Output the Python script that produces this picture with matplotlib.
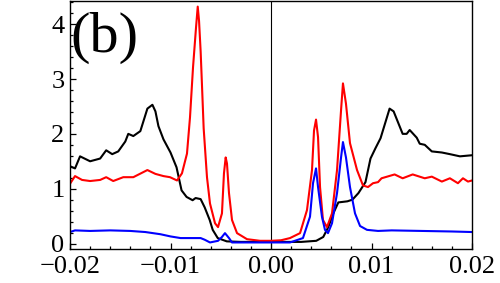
import numpy as np
import matplotlib
matplotlib.use("Agg")
import matplotlib.pyplot as plt
from matplotlib.ticker import MultipleLocator, FuncFormatter

## curves, as (x, y) pairs
black_pts = [(-0.0200, 1.41), (-0.0195, 1.37), (-0.0190, 1.59), (-0.0180, 1.50), (-0.0170, 1.55),
             (-0.0164, 1.70), (-0.0158, 1.63), (-0.0152, 1.68), (-0.0145, 1.86), (-0.0142, 2.00),
             (-0.0137, 1.96), (-0.0130, 2.05), (-0.0123, 2.46), (-0.0118, 2.53), (-0.0115, 2.41),
             (-0.0112, 2.14), (-0.0107, 1.90), (-0.0100, 1.66), (-0.0094, 1.39), (-0.0089, 0.97),
             (-0.0084, 0.85), (-0.0078, 0.79), (-0.0075, 0.83), (-0.0070, 0.81), (-0.0066, 0.66),
             (-0.0061, 0.43), (-0.0058, 0.25), (-0.0053, 0.10), (-0.0044, 0.04), (-0.0030, 0.03),
             (-0.0015, 0.03), (0.0000, 0.03), (0.0015, 0.03), (0.0030, 0.03), (0.0045, 0.05),
             (0.0052, 0.12), (0.0057, 0.30), (0.0062, 0.55), (0.0067, 0.75), (0.0076, 0.77),
             (0.0081, 0.80), (0.0087, 0.92), (0.0094, 1.12), (0.0099, 1.55), (0.0104, 1.74),
             (0.0109, 1.92), (0.0118, 2.46), (0.0122, 2.41), (0.0131, 2.00), (0.0135, 2.00),
             (0.0138, 2.07), (0.0145, 1.93), (0.0148, 1.82), (0.0153, 1.80), (0.0160, 1.68),
             (0.0170, 1.66), (0.0178, 1.63), (0.0188, 1.59), (0.0200, 1.61)]

red_pts = [(-0.0200, 1.09), (-0.0195, 1.23), (-0.0188, 1.16), (-0.0180, 1.14), (-0.0170, 1.16),
           (-0.0164, 1.21), (-0.0157, 1.14), (-0.0147, 1.21), (-0.0137, 1.21), (-0.0123, 1.34),
           (-0.0115, 1.27), (-0.0107, 1.23), (-0.01005, 1.21), (-0.00935, 1.15), (-0.00886, 1.28),
           (-0.00836, 1.64), (-0.00806, 2.30), (-0.00776, 3.21), (-0.00746, 3.94), (-0.00729, 4.32),
           (-0.00716, 4.06), (-0.00700, 3.50), (-0.00687, 2.90), (-0.00670, 2.10), (-0.00637, 1.21),
           (-0.00607, 0.73), (-0.00557, 0.37), (-0.00527, 0.30), (-0.00488, 0.55), (-0.00468, 1.28),
           (-0.00451, 1.57), (-0.00438, 1.46), (-0.00418, 0.92), (-0.00388, 0.43), (-0.00338, 0.19),
           (-0.00239, 0.08), (-0.00109, 0.05), (0.0000, 0.05), (0.0010, 0.06), (0.00189, 0.10),
           (0.00289, 0.19), (0.00358, 0.61), (0.00408, 1.34), (0.00428, 2.06), (0.00448, 2.26),
           (0.00468, 1.94), (0.00488, 1.03), (0.00517, 0.43), (0.00557, 0.30), (0.00607, 0.55),
           (0.00657, 1.34), (0.00697, 2.43), (0.00716, 2.92), (0.00746, 2.55), (0.00786, 1.83),
           (0.00856, 1.34), (0.00915, 1.06), (0.00965, 1.03), (0.01015, 1.10), (0.01065, 1.12),
           (0.0110, 1.19), (0.0123, 1.26), (0.0131, 1.19), (0.0141, 1.26), (0.0153, 1.19),
           (0.0160, 1.22), (0.0170, 1.13), (0.0178, 1.19), (0.0186, 1.10), (0.0191, 1.19),
           (0.0196, 1.13), (0.0200, 1.15)]

blue_pts = [(-0.0200, 0.21), (-0.0195, 0.24), (-0.0180, 0.23), (-0.0160, 0.24), (-0.0140, 0.23),
            (-0.0125, 0.21), (-0.0110, 0.17), (-0.0100, 0.13), (-0.0090, 0.10), (-0.0080, 0.10),
            (-0.0070, 0.10), (-0.0066, 0.07), (-0.00607, 0.02), (-0.00527, 0.05), (-0.00488, 0.12),
            (-0.00458, 0.19), (-0.00418, 0.10), (-0.00388, 0.02), (-0.0030, 0.02), (-0.0015, 0.02),
            (0.0000, 0.02), (0.0015, 0.02), (0.00189, 0.02), (0.00318, 0.10), (0.00388, 0.49),
            (0.00418, 1.10), (0.00448, 1.37), (0.00468, 1.03), (0.00507, 0.49), (0.00537, 0.25),
            (0.00567, 0.19), (0.00607, 0.37), (0.00657, 0.92), (0.00697, 1.57), (0.00716, 1.85),
            (0.00746, 1.57), (0.00786, 1.03), (0.00836, 0.55), (0.00886, 0.32), (0.00955, 0.25),
            (0.01065, 0.23), (0.0120, 0.24), (0.0150, 0.23), (0.0180, 0.22), (0.0200, 0.21)]

x_ticks = [-0.02, -0.01, 0.0, 0.01, 0.02]
y_ticks = [0, 1, 2, 3, 4]

black = np.array(black_pts)
red = np.array(red_pts)
blue = np.array(blue_pts)

plt.rcParams['font.family'] = ['Liberation Serif', 'DejaVu Serif']

fig = plt.figure(figsize=(5.0, 2.83), dpi=100)
ax = fig.add_axes([0.14, 0.12, 0.804, 0.878])

ax.axvline(0.0, color='black', linewidth=0.8)
ax.plot(black[:, 0], black[:, 1], color='black', linewidth=1.5)
ax.plot(red[:, 0], red[:, 1], color='red', linewidth=1.5)
ax.plot(blue[:, 0], blue[:, 1], color='blue', linewidth=1.5)

def xfmt(v, p):
    if abs(v) < 1e-9:
        return '0.00'
    s = '%.2f' % abs(v)
    return ('\u2212' + s) if v < 0 else s

ax.set_xlim(-0.02, 0.02)
ax.set_ylim(-0.1, 4.43)
ax.set_xticks(x_ticks)
ax.set_yticks(y_ticks)
ax.xaxis.set_minor_locator(MultipleLocator(0.002))
ax.yaxis.set_minor_locator(MultipleLocator(0.2))
ax.xaxis.set_major_formatter(FuncFormatter(xfmt))
ax.yaxis.set_major_formatter(FuncFormatter(lambda v, p: '%d' % v))
ax.tick_params(which='both', direction='in', top=False, right=False, labelsize=19, width=0.9)
ax.tick_params(which='major', length=4.5)
ax.tick_params(which='minor', length=2.3)
ax.tick_params(axis='x', pad=5)
ax.tick_params(axis='y', pad=4)
for s in ax.spines.values():
    s.set_linewidth(1.0)

ax.text(0.0, 0.955, '(b)', transform=ax.transAxes, fontsize=42, ha='left', va='top')

fig.savefig('out.png', dpi=100)
